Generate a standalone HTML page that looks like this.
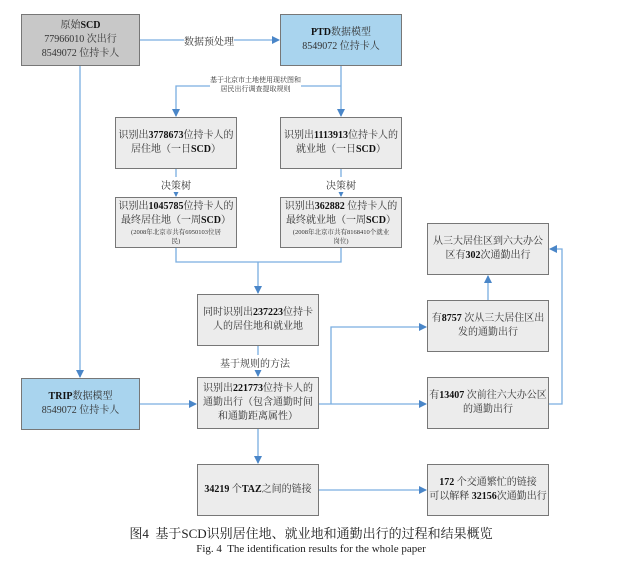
<!DOCTYPE html>
<html><head><meta charset="utf-8"><style>
body{margin:0;width:622px;height:565px;background:#fff;overflow:hidden;font-family:"Liberation Serif","Noto Serif CJK SC",serif;}
.b{position:absolute;box-sizing:border-box;border:1px solid #777;background:#ececec;display:flex;align-items:center;justify-content:center;text-align:center;font-size:10px;line-height:14px;color:#333;white-space:nowrap;}
.b>div{width:100%}
.g{background:#c8c8c8}.bl{background:#a9d4ee}
.s{font-size:6.5px;line-height:9px;display:block}
.l{position:absolute;font-size:10px;color:#333;background:#fff;white-space:nowrap}
b{color:#111}
svg{position:absolute;left:0;top:0}
</style></head><body>
<svg width="622" height="565">
<defs><marker id="a" markerWidth="8" markerHeight="8" refX="7" refY="4" orient="auto" markerUnits="userSpaceOnUse"><path d="M0,0L8,4L0,8z" fill="#4a86c8"/></marker></defs>
<g stroke="#7aaee0" stroke-width="1.3" fill="none">
<path d="M140,40H279" marker-end="url(#a)"/>
<path d="M341,66V116" marker-end="url(#a)"/>
<path d="M341,86H176V116" marker-end="url(#a)"/>
<path d="M80,66V377" marker-end="url(#a)"/>
<path d="M176,169V196" marker-end="url(#a)"/>
<path d="M341,169V196" marker-end="url(#a)"/>
<path d="M176,248V262H341V248"/>
<path d="M258,262V293" marker-end="url(#a)"/>
<path d="M258,346V376" marker-end="url(#a)"/>
<path d="M140,404H196" marker-end="url(#a)"/>
<path d="M319,404H426" marker-end="url(#a)"/>
<path d="M331,404V327H426" marker-end="url(#a)"/>
<path d="M488,300V276" marker-end="url(#a)"/>
<path d="M549,404H562V249H550" marker-end="url(#a)"/>
<path d="M258,429V463" marker-end="url(#a)"/>
<path d="M319,490H426" marker-end="url(#a)"/>
</g></svg>
<div class="l" style="left:184px;top:33px">数据预处理</div>
<div class="l" style="left:210px;top:76px;font-size:7px;line-height:9px;text-align:center">基于北京市土地使用现状图和<br>居民出行调查提取规则</div>
<div class="l" style="left:161px;top:177px">决策树</div>
<div class="l" style="left:326px;top:177px">决策树</div>
<div class="l" style="left:220px;top:355px">基于规则的方法</div>
<div class="b g" style="left:21px;top:14px;width:119px;height:52px"><div>原始<b>SCD</b><br>77966010 次出行<br>8549072 位持卡人</div></div>
<div class="b bl" style="left:280px;top:14px;width:122px;height:52px"><div><b>PTD</b>数据模型<br>8549072 位持卡人</div></div>
<div class="b" style="left:115px;top:117px;width:122px;height:52px"><div>识别出<b>3778673</b>位持卡人的<br>居住地（一日<b>SCD</b>）</div></div>
<div class="b" style="left:280px;top:117px;width:122px;height:52px"><div>识别出<b>1113913</b>位持卡人的<br>就业地（一日<b>SCD</b>）</div></div>
<div class="b" style="left:115px;top:197px;width:122px;height:51px"><div>识别出<b>1045785</b>位持卡人的<br>最终居住地（一周<b>SCD</b>）<span class="s">(2008年北京市共有6950103位居<br>民)</span></div></div>
<div class="b" style="left:280px;top:197px;width:122px;height:51px"><div>识别出<b>362882</b> 位持卡人的<br>最终就业地（一周<b>SCD</b>）<span class="s">(2008年北京市共有8168410个就业<br>岗位)</span></div></div>
<div class="b" style="left:197px;top:294px;width:122px;height:52px"><div>同时识别出<b>237223</b>位持卡<br>人的居住地和就业地</div></div>
<div class="b bl" style="left:21px;top:378px;width:119px;height:52px"><div><b>TRIP</b>数据模型<br>8549072 位持卡人</div></div>
<div class="b" style="left:197px;top:377px;width:122px;height:52px"><div>识别出<b>221773</b>位持卡人的<br>通勤出行（包含通勤时间<br>和通勤距离属性）</div></div>
<div class="b" style="left:427px;top:223px;width:122px;height:52px"><div>从三大居住区到六大办公<br>区有<b>302</b>次通勤出行</div></div>
<div class="b" style="left:427px;top:300px;width:122px;height:52px"><div>有<b>8757</b> 次从三大居住区出<br>发的通勤出行</div></div>
<div class="b" style="left:427px;top:377px;width:122px;height:52px"><div>有<b>13407</b> 次前往六大办公区<br>的通勤出行</div></div>
<div class="b" style="left:197px;top:464px;width:122px;height:52px"><div><b>34219</b> 个<b>TAZ</b>之间的链接</div></div>
<div class="b" style="left:427px;top:464px;width:122px;height:52px"><div><b>172</b> 个交通繁忙的链接<br>可以解释 <b>32156</b>次通勤出行</div></div>
<div style="position:absolute;left:0;width:622px;top:523px;text-align:center;font-size:13px;color:#222">图4&nbsp; 基于SCD识别居住地、就业地和通勤出行的过程和结果概览</div>
<div style="position:absolute;left:0;width:622px;top:543px;text-align:center;font-size:11px;color:#222">Fig. 4&nbsp; The identification results for the whole paper</div>
</body></html>
